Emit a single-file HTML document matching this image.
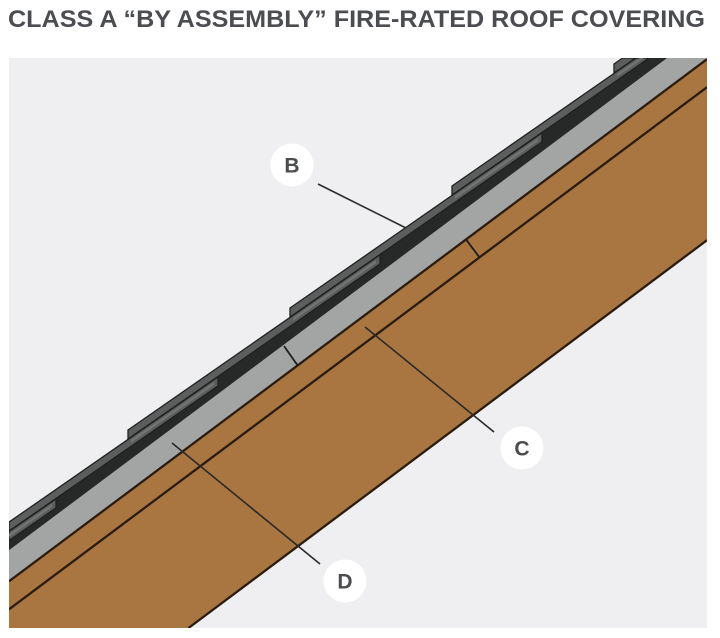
<!DOCTYPE html>
<html>
<head>
<meta charset="utf-8">
<style>
  html, body { margin:0; padding:0; background:#ffffff; width:720px; height:638px; overflow:hidden; }
  svg { display:block; overflow:hidden; }
</style>
</head>
<body>
<svg width="720" height="638" viewBox="0 0 720 638" xmlns="http://www.w3.org/2000/svg">
  <defs>
    <clipPath id="panel">
      <rect x="9" y="58" width="698" height="570"/>
    </clipPath>
  </defs>

  <!-- Title -->
  <text x="8" y="27" font-family="Liberation Sans, Arial, sans-serif" font-weight="bold" font-size="24" fill="#4b4d50" textLength="697" lengthAdjust="spacingAndGlyphs">CLASS A “BY ASSEMBLY” FIRE-RATED ROOF COVERING</text>

  <!-- Panel -->
  <rect x="9" y="58" width="698" height="570" fill="#efeff1"/>

  <g clip-path="url(#panel)">
    <!-- Brown deck -->
    <polygon points="9,581.3 707,59.2 707,240.2 188.5,628 9,628" fill="#a97641"/>
    <!-- Gray band -->
    <polygon points="9,550.3 667.1,58 707,58 707,59.2 9,581.3" fill="#a3a5a4"/>
    <!-- Black underlayment band -->
    <polygon points="9,522.1 128,439.4 128,430 290,317.4 290,308 452,195.4 452,186 614,73.4 614,64 622.6,58 667.1,58 9,550.3" fill="#272828"/>

    <!-- Shingles -->
    <g fill="#5c5e5d" stroke="#1f2020" stroke-width="1.3" stroke-linejoin="miter">
      <polygon points="9,531.5 56,498.9 56,507.9 9,540.5"/>
      <polygon points="9,522.1 218,376.9 218,385.9 9,531.1"/>
      <polygon points="128,430 380,254.9 380,263.9 128,439"/>
      <polygon points="290,308 542,132.9 542,141.9 290,317"/>
      <polygon points="452,186 636.2,58 649.1,58 452,195"/>
      <polygon points="614,64 622.6,58 635.6,58 614,73"/>
    </g>
    <!-- lighter strips on shingle heads -->
    <g fill="#727473">
      <polygon points="9,534 52,504.1 52,507.1 9,537"/>
      <polygon points="131,439.8 214,382.1 214,385.1 131,442.8"/>
      <polygon points="293,317.8 376,260.1 376,263.1 293,320.8"/>
      <polygon points="455,195.8 538,138.1 538,141.1 455,198.8"/>
      <polygon points="617,73.8 639.7,58 644,58 617,76.8"/>
    </g>

    <!-- Brown layer lines -->
    <g stroke="#2a1c10" stroke-width="2.3" fill="none">
      <line x1="9" y1="581.3" x2="707" y2="59.2"/>
      <line x1="9" y1="609.3" x2="707" y2="87.2"/>
      <line x1="188.5" y1="628" x2="707" y2="240.2"/>
    </g>

    <!-- Joints -->
    <g stroke="#1e1e1e" stroke-width="1.8">
      <line x1="284" y1="346" x2="298" y2="366"/>
      <line x1="466" y1="239.4" x2="479.4" y2="257.3"/>
    </g>

    <!-- Leader lines -->
    <g stroke="#2a2a2a" stroke-width="1.6">
      <line x1="318" y1="184" x2="406" y2="228"/>
      <line x1="365" y1="327" x2="494" y2="432"/>
      <line x1="172" y1="443" x2="320" y2="564"/>
    </g>

    <!-- Label circles -->
    <g fill="#ffffff">
      <circle cx="292" cy="165" r="21.5"/>
      <circle cx="522" cy="448" r="21.5"/>
      <circle cx="345" cy="581" r="21.5"/>
    </g>
    <g font-family="Liberation Sans, Arial, sans-serif" font-weight="bold" font-size="21" fill="#4a4c4e" text-anchor="middle">
      <text x="292" y="172.5">B</text>
      <text x="522" y="455.5">C</text>
      <text x="345" y="588.5">D</text>
    </g>
  </g>
</svg>
</body>
</html>
